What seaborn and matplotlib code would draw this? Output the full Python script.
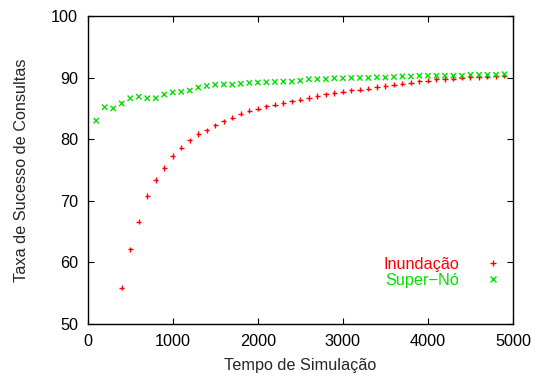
import numpy as np
import pandas as pd
import matplotlib
matplotlib.use("Agg")
import matplotlib.pyplot as plt
import seaborn as sns

# Data
tempo_super = list(range(100, 5000, 100))
super_no = [83.0, 85.2, 85.0, 85.8, 86.65, 86.9, 86.65, 86.65, 87.25, 87.6,
            87.7, 87.9, 88.4, 88.65, 88.85, 88.9, 88.85, 89.0, 89.15, 89.2,
            89.25, 89.3, 89.35, 89.35, 89.5, 89.75, 89.75, 89.75, 89.9, 89.9,
            89.95, 89.95, 89.95, 90.05, 90.0, 90.1, 90.2, 90.2, 90.3, 90.3,
            90.3, 90.3, 90.3, 90.3, 90.45, 90.45, 90.45, 90.45, 90.55]
tempo_inund = list(range(400, 5000, 100))
inundacao = [55.9, 62.1, 66.6, 70.75, 73.4, 75.3, 77.25, 78.65, 79.8, 80.85,
             81.45, 82.25, 82.9, 83.5, 84.15, 84.65, 84.95, 85.35, 85.6, 85.85,
             86.15, 86.4, 86.7, 87.0, 87.3, 87.5, 87.7, 87.95, 88.05, 88.2,
             88.45, 88.65, 88.85, 89.0, 89.2, 89.4, 89.5, 89.7, 89.75, 89.85,
             90.0, 90.05, 90.1, 90.15, 90.2, 90.3]
series_names = ["Inundação", "Super−Nó"]
x_ticks = [0, 1000, 2000, 3000, 4000, 5000]
y_ticks = [50, 60, 70, 80, 90, 100]

df = pd.concat([
    pd.DataFrame({"Tempo": tempo_inund, "Taxa": inundacao, "Serie": series_names[0]}),
    pd.DataFrame({"Tempo": tempo_super, "Taxa": super_no, "Serie": series_names[1]}),
], ignore_index=True)

sns.set_theme(style="ticks")
plt.rcParams["font.family"] = ["Liberation Sans", "DejaVu Sans"]

FS = 11.7
fig = plt.figure(figsize=(5.37, 3.76), dpi=100)
ax = fig.add_axes([0.1633, 0.1383, 0.9553 - 0.1633, 0.9574 - 0.1383])

palette = {series_names[0]: "#ff0000", series_names[1]: "#00e000"}
sns.scatterplot(data=df, x="Tempo", y="Taxa", hue="Serie", style="Serie",
                palette=palette, markers={series_names[0]: "+", series_names[1]: "x"},
                s=15, linewidth=1.0, ax=ax, legend=True)

ax.set_xlim(0, 5000)
ax.set_ylim(50, 100)
ax.set_xticks(x_ticks)
ax.set_yticks(y_ticks)
ax.tick_params(direction="in", length=4, width=0.8, top=True, right=True,
               labelsize=FS, colors="black", pad=7)
for sp in ax.spines.values():
    sp.set_visible(True)
    sp.set_color("black")
    sp.set_linewidth(1.0)
ax.set_xlabel("Tempo de Simulação", fontsize=FS, labelpad=7)
ax.set_ylabel("Taxa de Sucesso de Consultas", fontsize=FS, labelpad=16)

leg = ax.legend(loc="lower right", bbox_to_anchor=(1.0, 0.08), frameon=False,
                markerfirst=False, fontsize=FS,
                handlelength=1.0, handletextpad=1.6, labelspacing=0.08,
                borderpad=0.2, title=None)
for h in leg.legend_handles:
    if hasattr(h, "set_markersize"):
        h.set_markersize(4.2)
for t, n in zip(leg.get_texts(), series_names):
    t.set_color(palette[n])

fig.savefig("out.png", dpi=100)
